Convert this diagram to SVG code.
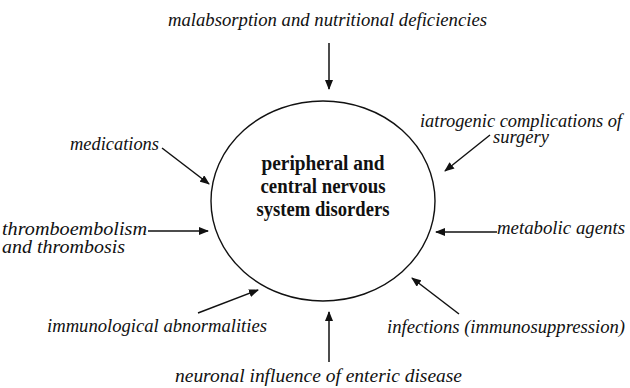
<svg xmlns="http://www.w3.org/2000/svg" width="630" height="388" viewBox="0 0 630 388">
<style>
.lbl{font-family:"Liberation Serif","DejaVu Serif",serif;font-style:italic;font-size:18.5px;fill:#111}
.ctr{font-family:"Liberation Serif","DejaVu Serif",serif;font-weight:bold;font-size:20px;fill:#111;text-anchor:middle}
.con{stroke:#111;stroke-width:1.5;fill:none;marker-end:url(#ah)}
</style>
<defs>
<marker id="ah" markerUnits="userSpaceOnUse" markerWidth="10" markerHeight="8" refX="9" refY="4" orient="auto">
<path d="M0,0 L10,4 L0,8 Z" fill="#111"/>
</marker>
</defs>
<rect width="630" height="388" fill="#fff"/>
<g id="center">
<ellipse cx="323" cy="201" rx="112" ry="100" fill="none" stroke="#111" stroke-width="1.4"/>
<text class="ctr" x="323" y="170" textLength="123" lengthAdjust="spacingAndGlyphs">peripheral and</text>
<text class="ctr" x="323" y="193" textLength="125" lengthAdjust="spacingAndGlyphs">central nervous</text>
<text class="ctr" x="323" y="216" textLength="133" lengthAdjust="spacingAndGlyphs">system disorders</text>
</g>
<g id="malabsorption"><text class="lbl" x="168" y="26" textLength="319" lengthAdjust="spacingAndGlyphs">malabsorption and nutritional deficiencies</text></g>
<g id="iatrogenic"><text class="lbl" x="420" y="127" textLength="202" lengthAdjust="spacingAndGlyphs">iatrogenic complications of</text>
<text class="lbl" x="493" y="143" textLength="56" lengthAdjust="spacingAndGlyphs">surgery</text></g>
<g id="medications"><text class="lbl" x="70" y="150" textLength="89" lengthAdjust="spacingAndGlyphs">medications</text></g>
<g id="thrombo"><text class="lbl" x="2" y="235" textLength="145" lengthAdjust="spacingAndGlyphs">thromboembolism</text>
<text class="lbl" x="2" y="253" textLength="123" lengthAdjust="spacingAndGlyphs">and thrombosis</text></g>
<g id="metabolic"><text class="lbl" x="497" y="234" textLength="128" lengthAdjust="spacingAndGlyphs">metabolic agents</text></g>
<g id="immunological"><text class="lbl" x="47" y="332" textLength="220" lengthAdjust="spacingAndGlyphs">immunological abnormalities</text></g>
<g id="infections"><text class="lbl" x="387" y="333" textLength="238" lengthAdjust="spacingAndGlyphs">infections (immunosuppression)</text></g>
<g id="neuronal"><text class="lbl" x="175" y="382" textLength="287" lengthAdjust="spacingAndGlyphs">neuronal influence of enteric disease</text></g>
<g id="connectors">
<line class="con" x1="329" y1="43" x2="329" y2="89"/>
<line class="con" x1="490" y1="135" x2="445" y2="171"/>
<line class="con" x1="162" y1="148" x2="209" y2="184"/>
<line class="con" x1="148" y1="231" x2="208" y2="231"/>
<line class="con" x1="497" y1="232" x2="436" y2="232"/>
<line class="con" x1="198" y1="313" x2="258" y2="290"/>
<line class="con" x1="459" y1="314" x2="412" y2="278"/>
<line class="con" x1="329" y1="362" x2="329" y2="312"/>
</g>
</svg>
